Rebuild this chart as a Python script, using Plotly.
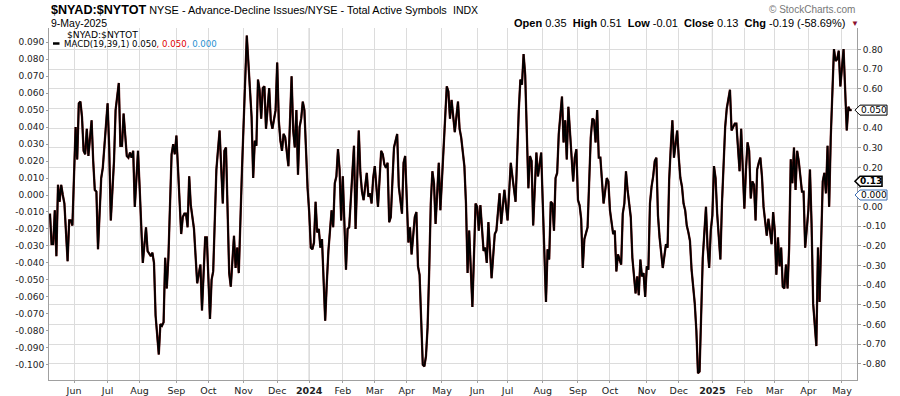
import pandas as pd
import plotly.graph_objects as go

# ---------------- data ----------------
START, END = "2023-05-10", "2025-05-09"
HOLIDAYS = ["2023-05-29", "2023-06-19", "2023-07-04", "2023-09-04", "2023-11-23", "2023-12-25",
            "2024-01-01", "2024-01-15", "2024-02-19", "2024-03-29", "2024-05-27", "2024-06-19",
            "2024-07-04", "2024-09-02", "2024-11-28", "2024-12-25",
            "2025-01-01", "2025-01-09", "2025-01-20", "2025-02-17", "2025-04-18"]

MONTH_LABELS = ["Jun", "Jul", "Aug", "Sep", "Oct", "Nov", "Dec", "<b>2024</b>", "Feb", "Mar", "Apr", "May",
                "Jun", "Jul", "Aug", "Sep", "Oct", "Nov", "Dec", "<b>2025</b>", "Feb", "Mar", "Apr", "May"]

# trading-session number (0 = 10-May-2023) and MACD(19,39,1) value
DAY_IDX = [0, 1, 2, 3, 4, 5, 6, 7, 8, 9, 11, 12, 13, 14, 16, 17, 18, 19, 20, 21, 22, 23, 24, 25, 26, 27, 28, 29, 30,
           32, 33, 36, 37, 38, 40, 41, 43, 44, 45, 46, 48, 49, 50, 51, 52, 53, 55, 56, 58, 60, 61, 63, 64, 65, 66,
           68, 69, 70, 71, 72, 73, 74, 76, 77, 78, 79, 80, 81, 82, 83, 84, 85, 86, 87, 88, 90, 92, 94, 95, 97, 98,
           100, 101, 102, 103, 104, 106, 107, 108, 109, 110, 112, 113, 115, 116, 117, 118, 120, 123,
           125, 126, 127, 128, 129, 130, 131, 132, 133, 134, 135, 137, 138, 139, 141, 142, 143, 144, 145, 146, 147,
           148, 149, 151, 152, 153, 154, 155, 156, 157, 158, 159, 160, 161, 162, 163, 164, 165, 166, 167, 168, 169,
           170, 172, 173, 174, 176, 177, 178, 179, 180, 181, 182, 183, 185, 186, 187, 188, 190, 191, 193, 194, 195,
           196, 197, 198, 199, 200, 201, 202, 203, 204, 205, 207, 208, 209, 210, 211, 212, 213, 215, 217, 218, 220,
           221, 222, 224, 225, 226, 228, 229, 230, 231, 233, 234, 235, 236, 237, 238, 239, 240, 241, 243, 244, 246,
           248, 249, 250, 251, 253, 255, 256, 257, 259, 260, 261, 262, 264, 266, 267, 268, 269, 271, 272, 273, 274,
           276, 278, 279, 281, 282, 284, 286, 288, 289, 291, 293, 294, 295, 296, 297, 298, 299, 300, 301, 302, 304,
           305, 307, 308, 310, 311, 312, 313, 314, 315, 316, 317, 318, 320, 321, 322, 323, 324, 325, 327, 328, 329,
           330, 331, 332, 333, 334, 336, 338, 339, 340, 341, 342, 343, 344, 346, 348, 349, 350, 352, 353, 354, 355,
           357, 358, 359, 360, 361, 363, 364, 366, 367, 368, 369, 370, 371, 372, 373, 374, 375,
           376, 377, 378, 379, 380, 381, 383, 384, 385, 386, 387, 388, 389, 390, 392, 393, 394, 395, 396, 397, 398,
           399, 400, 401, 402, 403, 404, 405, 406, 407, 408, 410, 411, 412, 413, 414, 415, 416, 417, 419, 420, 422,
           423, 425, 426, 427, 428, 429, 431, 432, 434, 435, 436, 437, 438, 439, 440, 441, 442, 443, 444, 445, 446,
           448, 449, 450, 451, 452, 453, 454, 455, 456, 457, 458, 459, 460, 461, 462, 463, 464, 465, 466, 467, 468,
           470, 471, 472, 474, 475, 476, 477, 479, 480, 481, 483, 484, 485, 486, 487, 488, 490, 491, 492, 493, 494,
           496, 498, 499, 500, 501]

MACD = [-0.011, -0.029, -0.029, -0.009, -0.036, 0.006, -0.004, 0.006, 0.000, -0.005, -0.039, -0.015, -0.015, -0.018,
        0.040, 0.021, 0.054, 0.055, 0.046, 0.026, 0.024, 0.039, 0.023, 0.033, 0.044, 0.020, 0.003, 0.002, -0.032,
        0.010, 0.016, 0.054, 0.028, -0.015, 0.020, 0.050, 0.066, 0.029, 0.029, 0.048, 0.023, 0.022, 0.025, 0.022,
        0.026, -0.007, 0.026, 0.005, -0.040, -0.019, -0.033, -0.036, -0.034, -0.040, -0.071,
        -0.094, -0.076, -0.077, -0.075, -0.037, -0.055, -0.037, 0.024, 0.030, 0.024, 0.035, 0.016, -0.001, -0.023,
        -0.013, -0.011, -0.011, -0.019, 0.011, -0.006, -0.020, -0.052, -0.041, -0.068, -0.025, -0.025,
        -0.073, -0.050, -0.045, -0.015, 0.015, 0.038, 0.012, -0.005, 0.026, 0.028, -0.046, -0.054, -0.024, -0.043,
        -0.031, -0.046, 0.015, 0.094,
        0.062, 0.046, 0.010, 0.032, 0.029, 0.068, 0.062, 0.045, 0.063, 0.064, 0.039, 0.063, 0.044, 0.039, 0.050,
        0.078, 0.044, 0.032, 0.026, 0.036, 0.034,
        0.024, 0.017, 0.070, 0.038, 0.028, 0.050, 0.012, 0.040, 0.045, 0.055, 0.050, 0.020, 0.004, -0.010, -0.031,
        -0.032, -0.028, -0.004, -0.022, -0.020, -0.031,
        -0.026, -0.074, -0.052, -0.033, -0.009, -0.019, 0.007, 0.011, 0.027, 0.015, -0.015, 0.011, -0.044, -0.020,
        -0.019, -0.002, 0.029, -0.020, 0.038, 0.013, 0.002,
        -0.003, 0.005, 0.013, -0.001, 0.001, -0.005, 0.010, 0.017, 0.005, -0.007, 0.026, 0.024, 0.018, 0.016, 0.019,
        -0.016, -0.013, 0.028, 0.036, 0.005, -0.011,
        0.019, 0.023, -0.028, -0.019, -0.035, -0.013, -0.010, -0.042, -0.047, -0.100, -0.101, -0.095, -0.078, -0.045,
        -0.005, 0.014, 0.007, -0.017, 0.019, -0.009, 0.026,
        0.064, 0.061, 0.045, 0.056, 0.037, 0.055, 0.039, 0.034, 0.017, -0.005, -0.046, -0.021, -0.066, -0.005,
        -0.007, -0.021, -0.006, -0.033, -0.031, -0.040, -0.016,
        -0.049, -0.023, -0.021, 0.001, -0.017, 0.003, -0.015, 0.019, 0.011, -0.004, 0.050, 0.068, 0.065, 0.083,
        0.071, 0.028, 0.004, 0.023, 0.020, -0.018, 0.025,
        0.011, 0.025, -0.005, -0.063, -0.032, -0.038, -0.004, -0.005, -0.021, 0.010, 0.013, 0.036, 0.058, 0.031,
        0.044, 0.021, 0.052, 0.036, 0.008, 0.022, 0.027,
        -0.003, -0.006, -0.014, -0.043, -0.026, -0.019, 0.034, 0.045, 0.044, 0.031, 0.050, 0.022, 0.022, -0.005,
        0.010, 0.008, -0.009, -0.023, -0.021, -0.045, -0.035,
        -0.041, -0.011, -0.005, 0.014, 0.003, -0.013, -0.037, -0.058, -0.048, -0.059, -0.038, -0.048, -0.046, -0.060,
        -0.042, -0.044, -0.005,
        0.005, 0.011, 0.020, 0.022, -0.012, -0.025, -0.043, -0.035, -0.029, -0.031, 0.009, 0.028, 0.044, 0.022,
        0.038, 0.022, 0.010, 0.005, -0.005, -0.009, -0.018,
        -0.022, -0.027, -0.044, -0.054, -0.064, -0.080, -0.105, -0.104, -0.065, -0.037, -0.007, -0.031, -0.043,
        -0.021, -0.012, 0.017, 0.010, -0.011, -0.038, -0.005, 0.040,
        0.051, 0.062, 0.038, 0.040, 0.042, 0.042, 0.014, 0.039, -0.008, 0.015, 0.031, 0.026, -0.002, 0.008, 0.006,
        -0.015, 0.015, 0.019, 0.022, 0.011, -0.007,
        -0.024, -0.014, -0.021, -0.029, -0.010, -0.021, -0.047, -0.025, -0.042, -0.031, -0.054, -0.055, -0.041,
        -0.055, -0.031, 0.021, 0.007, 0.028, 0.003, 0.026, 0.020,
        0.002, 0.002, -0.031, -0.009, 0.015, -0.017, -0.064, -0.089, -0.031, -0.063, 0.008, 0.013, 0.001, 0.029,
        -0.007, 0.034, 0.086, 0.079, 0.080, 0.085, 0.064,
        0.086, 0.038, 0.052, 0.050, 0.050]

SIGNAL = MACD  # signal period 1 -> identical to MACD
LAST_MACD, LAST_SIGNAL, LAST_HIST = 0.050, 0.050, 0.000
CLOSE = 0.13

LEFT_TICKS = [-0.10, -0.09, -0.08, -0.07, -0.06, -0.05, -0.04, -0.03, -0.02, -0.01,
              0.0, 0.01, 0.02, 0.03, 0.04, 0.05, 0.06, 0.07, 0.08, 0.09]
RIGHT_TICKS = [-0.8, -0.7, -0.6, -0.5, -0.4, -0.3, -0.2, -0.1, 0.0, 0.1, 0.2, 0.3, 0.4, 0.5, 0.6, 0.7, 0.8]
RIGHT_HIDDEN = [0.1, 0.5]  # labels covered by the value markers

# ---------------- calendar / month ticks ----------------
cal = pd.bdate_range(START, END)
cal = cal[~cal.isin(pd.to_datetime(HOLIDAYS))]
month_ticks = [i for i in range(1, len(cal)) if cal[i].month != cal[i - 1].month]
year_ticks = [i for i in month_ticks if cal[i].month == 1]

# ---------------- figure ----------------
W, H = 900, 396
L, R, T, B = 49, 43, 28, 16
PW, PH = W - L - R, H - T - B


def px(xp):
    return (xp - L) / PW


def py(yp):
    return (H - B - yp) / PH


FONT = "Liberation Sans, Arial, sans-serif"
TICKF = "DejaVu Sans, Verdana, sans-serif"
fig = go.Figure()
fig.add_trace(go.Scatter(x=DAY_IDX, y=SIGNAL, mode="lines", line=dict(color="#6e1414", width=2.3),
                         hoverinfo="skip", showlegend=False))
fig.add_trace(go.Scatter(x=DAY_IDX, y=MACD, mode="lines", line=dict(color="#000000", width=1.7),
                         hoverinfo="skip", showlegend=False))
fig.add_trace(go.Scatter(x=[DAY_IDX[-1]], y=[CLOSE], mode="markers", marker=dict(opacity=0),
                         yaxis="y2", hoverinfo="skip", showlegend=False))

GRID = "#dcdcdc"
AX = "#a0a0a0"
fig.update_layout(
    width=W, height=H, margin=dict(l=L, r=R, t=T, b=B, autoexpand=False),
    paper_bgcolor="white", plot_bgcolor="white",
    font=dict(family=FONT, size=11, color="#222"),
    xaxis=dict(range=[-0.625, 504.4], tickmode="array", tickvals=month_ticks, ticktext=MONTH_LABELS,
               showgrid=True, gridcolor=GRID, gridwidth=1, showline=True, linecolor=AX, mirror=False,
               ticks="outside", ticklen=2, tickcolor=AX, zeroline=False, automargin=False,
               tickfont=dict(family=TICKF, size=9.5, color="#222")),
    yaxis=dict(range=[-0.109, 0.0984], tickmode="array", tickvals=LEFT_TICKS,
               ticktext=[f"{v:.3f}" for v in LEFT_TICKS], showgrid=False, showline=True, linecolor=AX,
               ticks="outside", ticklen=2, tickcolor=AX, zeroline=False, automargin=False,
               tickfont=dict(family=TICKF, size=9, color="#222")),
    yaxis2=dict(range=[-0.883, 0.9106], overlaying="y", side="right", tickmode="array", tickvals=RIGHT_TICKS,
                ticktext=["" if v in RIGHT_HIDDEN else f"{v:.2f}" for v in RIGHT_TICKS], showgrid=True,
                gridcolor=GRID, showline=True, linecolor=AX, ticks="outside", ticklen=3, tickcolor=AX,
                zeroline=False, automargin=False, tickfont=dict(family=TICKF, size=9, color="#222")),
)

shapes = []
# darker year separators
for t in year_ticks:
    shapes.append(dict(type="line", xref="x", yref="paper", x0=t, x1=t, y0=0, y1=1,
                       line=dict(color="#b4b4b4", width=1), layer="between"))
# white box behind the in-plot legend
shapes.append(dict(type="rect", xref="paper", yref="paper", x0=px(49.5), x1=px(215), y0=py(49), y1=1,
                   fillcolor="white", line=dict(width=0), layer="between"))
# legend line swatch
shapes.append(dict(type="line", xref="paper", yref="paper", x0=px(53), x1=px(59.5), y0=py(43.5), y1=py(43.5),
                   line=dict(color="black", width=2.5), layer="above"))
# right-edge value markers (pointer + box)
MARKERS = [("y", LAST_MACD, "black", 1, 30, f"{LAST_MACD:.3f}", False),
           ("y2", CLOSE, "black", 1.6, 25, f"{CLOSE:.2f}", True),
           ("y", LAST_HIST, "#3c6eb4", 1, 30, f"{LAST_HIST:.3f}", False)]
for yref, val, col, lw, wbox, _, _ in MARKERS:
    shapes.append(dict(type="path", xref="paper", xsizemode="pixel", xanchor=1, yref=yref, ysizemode="pixel",
                       yanchor=val, path=f"M -2 0 L 3 5 L {wbox} 5 L {wbox} -5 L 3 -5 Z", fillcolor="white",
                       line=dict(color=col, width=lw), layer="above"))
fig.update_layout(shapes=shapes)

ann = []
ann.append(dict(xref="paper", yref="paper", x=px(48.5), y=py(9.5), xanchor="left", yanchor="middle",
                text="<b><span style='font-size:12.6px'>$NYAD:$NYTOT</span></b> NYSE - Advance-Decline Issues/NYSE - Total Active Symbols",
                showarrow=False, font=dict(family=FONT, size=10.9, color="#000")))
ann.append(dict(xref="paper", yref="paper", x=px(451), y=py(10), xanchor="left", yanchor="middle",
                text="INDX", showarrow=False, font=dict(family=FONT, size=10.5, color="#000")))
ann.append(dict(xref="paper", yref="paper", x=px(48.5), y=py(22.5), xanchor="left", yanchor="middle",
                text="9-May-2025", showarrow=False, font=dict(family=FONT, size=10.5, color="#000")))
ann.append(dict(xref="paper", yref="paper", x=px(857), y=py(9.5), xanchor="right", yanchor="middle",
                text="© StockCharts.com", showarrow=False, font=dict(family=FONT, size=10, color="#777")))
ann.append(dict(xref="paper", yref="paper", x=px(847), y=py(22.7), xanchor="right", yanchor="middle",
                text="<b>Open</b> 0.35  <b>High</b> 0.51  <b>Low</b> -0.01  <b>Close</b> 0.13  <b>Chg</b> -0.19 (-58.69%)",
                showarrow=False, font=dict(family=FONT, size=11, color="#000")))
ann.append(dict(xref="paper", yref="paper", x=px(849), y=py(23), xanchor="left", yanchor="middle",
                text="▼", showarrow=False, font=dict(family=FONT, size=8, color="#8b1030")))
# in-plot legend
ann.append(dict(xref="paper", yref="paper", x=px(64.5), y=py(34), xanchor="left", yanchor="middle",
                text="$NYAD:$NYTOT", showarrow=False, font=dict(family=TICKF, size=9.2, color="#000")))
ann.append(dict(xref="paper", yref="paper", x=px(61.5), y=py(43.5), xanchor="left", yanchor="middle",
                text=f"MACD(19,39,1) {LAST_MACD:.3f}<span style='color:#e00000'>, {LAST_SIGNAL:.3f}</span>"
                     f"<span style='color:#1f8fd0'>, {LAST_HIST:.3f}</span>",
                showarrow=False, font=dict(family=TICKF, size=8.6, color="#000")))
# right-edge marker texts
for yref, val, col, lw, wbox, txt, bold in MARKERS:
    ann.append(dict(xref="paper", yref=yref, x=1, xshift=(3 + wbox) / 2, y=val, xanchor="center",
                    yanchor="middle", text=f"<b>{txt}</b>" if bold else txt, showarrow=False,
                    font=dict(family=TICKF, size=9, color="#000")))
fig.update_layout(annotations=ann)

fig.write_html("out.html", config={"displayModeBar": False},
               post_script="document.body.style.margin='0';document.body.style.overflow='hidden';")
